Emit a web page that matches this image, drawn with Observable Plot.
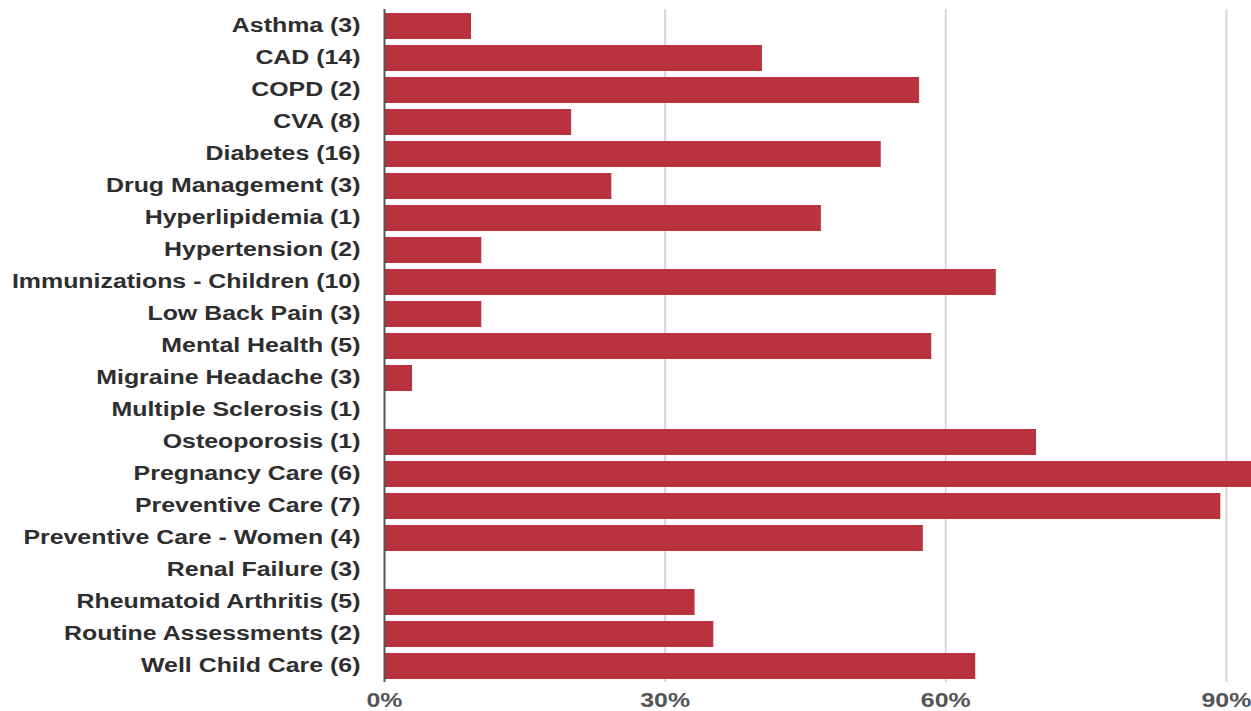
<!DOCTYPE html>
<html>
<head>
<meta charset="utf-8">
<script src="https://cdn.jsdelivr.net/npm/d3@7"></script>
<script src="https://cdn.jsdelivr.net/npm/@observablehq/plot@0.6"></script>
<style>
  html, body { margin: 0; padding: 0; background: #fff; }
  #chart svg { display: block; }
</style>
</head>
<body>
<div id="chart"></div>
<script>
// Conditions, number of measures per condition, and share achieved (%)
const conditions = [
  "Asthma", "CAD", "COPD", "CVA", "Diabetes", "Drug Management",
  "Hyperlipidemia", "Hypertension", "Immunizations - Children",
  "Low Back Pain", "Mental Health", "Migraine Headache",
  "Multiple Sclerosis", "Osteoporosis", "Pregnancy Care",
  "Preventive Care", "Preventive Care - Women", "Renal Failure",
  "Rheumatoid Arthritis", "Routine Assessments", "Well Child Care"
];
const measureCounts = [3, 14, 2, 8, 16, 3, 1, 2, 10, 3, 5, 3, 1, 1, 6, 7, 4, 3, 5, 2, 6];
const rates = [9.3, 40.4, 57.2, 20.0, 53.1, 24.3, 46.7, 10.4, 65.4, 10.4, 58.5, 3.0,
               0, 69.7, 93.5, 89.4, 57.6, 0, 33.2, 35.2, 63.2];
const xTicks = [0, 30, 60, 90];

const rows = conditions.map((c, i) => ({
  label: `${c} (${measureCounts[i]})`,
  rate: rates[i]
}));
const order = rows.map(d => d.label);

const chart = Plot.plot({
  width: 1251,
  height: 711,
  marginLeft: 384,
  marginRight: 0,
  marginTop: 9,
  marginBottom: 29,
  style: {fontFamily: "'Liberation Sans', Arial, sans-serif", background: "#fff"},
  x: {domain: [0, 92.68], axis: null},
  y: {domain: order, paddingInner: 0.2, paddingOuter: 0.1, axis: null},
  marks: [
    Plot.ruleX(xTicks.filter(d => d > 0), {stroke: "#d6d6d6", strokeWidth: 2}),
    Plot.barX(rows, {y: "label", x: "rate", fill: "#b9323d", clip: true}),
    Plot.ruleX([0], {stroke: "#555", strokeWidth: 2}),
    Plot.axisY({
      tickSize: 0, tickPadding: 24, dy: 5, fontSize: 20, fontWeight: "bold",
      fill: "#2e2e2e", label: null, ariaLabel: "y-axis"
    }),
    Plot.axisX({
      ticks: xTicks, tickFormat: d => `${d}%`, tickSize: 0, tickPadding: 10, dy: 14,
      fontSize: 20, fontWeight: "bold", fill: "#555", label: null, ariaLabel: "x-axis"
    })
  ]
});

document.getElementById("chart").appendChild(chart);

// Widen the tick labels horizontally around their anchor point
function stretch(svg, k) {
  svg.querySelectorAll('g[aria-label="y-axis tick label"] text, g[aria-label="x-axis tick label"] text')
    .forEach(t => {
      const x = +t.getAttribute("x") || 0, y = +t.getAttribute("y") || 0;
      t.removeAttribute("x");
      t.removeAttribute("y");
      const tr = t.getAttribute("transform") || "";
      t.setAttribute("transform", `${tr} translate(${x},${y}) scale(${k},1)`);
    });
}
stretch(chart, 1.245);
</script>
</body>
</html>
